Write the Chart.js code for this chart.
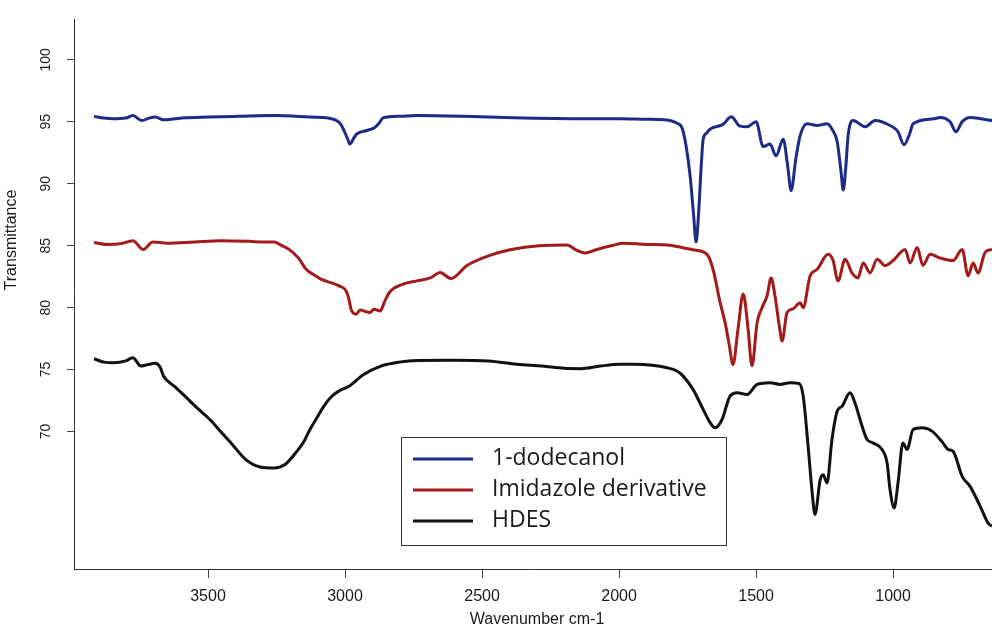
<!DOCTYPE html>
<html>
<head>
<meta charset="utf-8">
<script src="https://cdn.jsdelivr.net/npm/chart.js@4.4.1/dist/chart.umd.min.js"></script>
<style>
  html, body { margin: 0; padding: 0; background: #fff; }
  #wrap { width: 992px; height: 635px; }
</style>
</head>
<body>
<div id="wrap"><canvas id="ftirChart"></canvas></div>
<script>
// wavenumbers (cm-1) and transmittance
const dodecanolWn = [3916, 3880, 3845, 3800, 3774, 3741, 3715, 3693, 3662, 3620, 3584, 3500, 3388, 3259, 3128, 3060, 3036, 3015, 3004, 2990, 2982, 2970, 2958, 2920, 2894, 2875, 2861, 2800, 2737, 2567, 2385, 2124, 1996, 1900, 1825, 1790, 1770, 1755, 1740, 1728, 1719, 1710, 1700, 1693, 1680, 1668, 1620, 1591, 1558, 1533, 1500, 1474, 1449, 1427, 1401, 1385, 1372, 1355, 1339, 1314, 1277, 1241, 1220, 1204, 1190, 1182, 1172, 1164, 1146, 1102, 1066, 1011, 982, 960, 940, 927, 854, 828, 792, 770, 748, 719, 680, 639];
const dodecanolT = [95.44, 95.3, 95.24, 95.3, 95.51, 95.1, 95.3, 95.38, 95.16, 95.25, 95.32, 95.38, 95.44, 95.5, 95.38, 95.3, 95.16, 94.8, 94.3, 93.6, 93.2, 93.6, 94.0, 94.3, 94.5, 94.9, 95.32, 95.45, 95.5, 95.44, 95.32, 95.24, 95.24, 95.2, 95.15, 94.9, 94.5, 93.0, 90.5, 87.5, 85.3, 87.5, 91.5, 93.6, 94.1, 94.4, 94.8, 95.4, 94.65, 94.6, 95.0, 93.0, 93.2, 92.25, 93.6, 91.5, 89.44, 92.0, 93.9, 94.84, 94.7, 94.84, 94.3, 93.4, 91.0, 89.5, 91.5, 93.9, 95.1, 94.6, 95.1, 94.7, 94.2, 93.14, 94.0, 94.84, 95.24, 95.35, 95.0, 94.2, 95.0, 95.35, 95.25, 95.1];

const imidazoleWn = [3916, 3870, 3821, 3774, 3737, 3701, 3650, 3550, 3453, 3350, 3296, 3259, 3230, 3204, 3170, 3142, 3110, 3088, 3050, 3022, 2996, 2985, 2978, 2960, 2945, 2931, 2910, 2894, 2872, 2855, 2839, 2788, 2737, 2686, 2653, 2613, 2555, 2474, 2398, 2292, 2190, 2157, 2124, 2084, 2018, 1985, 1900, 1825, 1730, 1679, 1657, 1631, 1613, 1598, 1584, 1566, 1547, 1529, 1515, 1496, 1478, 1460, 1445, 1431, 1415, 1405, 1387, 1365, 1339, 1328, 1303, 1277, 1237, 1219, 1201, 1175, 1150, 1128, 1109, 1084, 1058, 1029, 1000, 956, 938, 912, 891, 865, 828, 781, 748, 726, 708, 690, 664, 639];
const imidazoleT = [85.26, 85.1, 85.15, 85.4, 84.7, 85.3, 85.2, 85.3, 85.4, 85.35, 85.3, 85.3, 85.0, 84.7, 84.0, 83.1, 82.6, 82.3, 82.0, 81.76, 81.35, 80.6, 79.87, 79.47, 79.8, 79.73, 79.6, 79.87, 79.73, 80.5, 81.2, 81.9, 82.16, 82.43, 82.84, 82.35, 83.4, 84.2, 84.67, 85.0, 85.05, 84.67, 84.4, 84.67, 85.05, 85.2, 85.1, 85.05, 84.67, 84.3, 83.1, 80.4, 78.8, 77.0, 75.4, 78.25, 81.1, 78.25, 75.3, 78.8, 80.0, 80.95, 82.4, 80.95, 78.5, 77.3, 79.6, 79.9, 80.4, 80.0, 82.56, 83.1, 84.3, 83.8, 82.16, 83.9, 82.8, 82.4, 83.6, 82.8, 83.9, 83.4, 83.8, 84.7, 83.6, 84.86, 83.4, 84.3, 84.0, 83.8, 84.7, 82.56, 83.6, 82.8, 84.46, 84.7];

const hdesWn = [3916, 3880, 3845, 3800, 3774, 3745, 3720, 3693, 3675, 3662, 3620, 3584, 3540, 3493, 3450, 3416, 3362, 3310, 3259, 3219, 3180, 3150, 3128, 3100, 3077, 3050, 3023, 2985, 2960, 2932, 2869, 2803, 2737, 2600, 2476, 2372, 2281, 2200, 2139, 2069, 1996, 1949, 1880, 1825, 1790, 1766, 1730, 1693, 1670, 1650, 1624, 1595, 1569, 1533, 1496, 1449, 1412, 1376, 1343, 1328, 1310, 1295, 1285, 1266, 1255, 1241, 1223, 1204, 1186, 1157, 1139, 1113, 1095, 1073, 1040, 1022, 1011, 996, 982, 964, 949, 927, 894, 858, 818, 799, 781, 748, 719, 682, 653, 639];
const hdesT = [75.87, 75.6, 75.55, 75.7, 75.96, 75.28, 75.4, 75.5, 75.2, 74.47, 73.6, 72.86, 71.9, 70.97, 69.9, 69.08, 67.73, 67.14, 67.06, 67.33, 68.28, 69.2, 70.16, 71.2, 72.05, 72.8, 73.26, 73.66, 74.1, 74.6, 75.28, 75.6, 75.74, 75.75, 75.69, 75.42, 75.28, 75.1, 75.07, 75.28, 75.42, 75.42, 75.35, 75.15, 74.9, 74.47, 73.4, 71.78, 70.8, 70.3, 70.97, 72.86, 73.13, 72.99, 73.8, 73.94, 73.8, 73.94, 73.88, 72.86, 68.8, 65.0, 63.3, 66.1, 66.5, 65.85, 69.35, 71.64, 72.05, 73.13, 72.3, 70.43, 69.35, 69.08, 68.54, 67.47, 65.3, 63.82, 65.85, 69.08, 68.54, 70.16, 70.3, 70.03, 69.08, 68.54, 68.4, 66.38, 65.57, 63.96, 62.6, 62.35];

const seriesNames = ["1-dodecanol", "Imidazole derivative", "HDES"];
const seriesColors = ["#1c2b86", "#a31a1a", "#111111"];
const xTicks = [3500, 3000, 2500, 2000, 1500, 1000];
const yTicks = [70, 75, 80, 85, 90, 95, 100];

function toPoints(wn, t) {
  return wn.map((x, i) => ({ x: x, y: t[i] }));
}

const labelFont = "Liberation Sans, Arial, sans-serif";

// axis labels, rotated y ticks and the boxed legend
const extrasPlugin = {
  id: "extras",
  afterDraw(chart) {
    const ctx = chart.ctx;
    const yScale = chart.scales.y;
    const area = chart.chartArea;

    ctx.save();
    ctx.fillStyle = "#1a1a1a";
    ctx.font = "14px " + labelFont;
    ctx.textAlign = "center";
    ctx.textBaseline = "middle";
    yTicks.forEach(v => {
      ctx.save();
      ctx.translate(46, yScale.getPixelForValue(v));
      ctx.rotate(-Math.PI / 2);
      ctx.fillText(String(v), 0, 0);
      ctx.restore();
    });

    ctx.font = "16px " + labelFont;
    ctx.save();
    ctx.translate(12, 240);
    ctx.rotate(-Math.PI / 2);
    ctx.fillText("Transmittance", 0, 0);
    ctx.restore();

    ctx.fillText("Wavenumber cm-1", (area.left + area.right) / 2 + 4, 620);

    // legend
    const bx = 401, by = 437, bw = 325, bh = 108;
    ctx.fillStyle = "#fff";
    ctx.fillRect(bx, by, bw, bh);
    ctx.strokeStyle = "#333";
    ctx.lineWidth = 1;
    ctx.strokeRect(bx + 0.5, by + 0.5, bw, bh);
    ctx.font = "23px 'Open Sans', 'Noto Sans', sans-serif";
    ctx.textAlign = "left";
    const rows = [459, 490, 521];
    seriesNames.forEach((name, i) => {
      ctx.strokeStyle = seriesColors[i];
      ctx.lineWidth = 3;
      ctx.beginPath();
      ctx.moveTo(413, rows[i]);
      ctx.lineTo(473, rows[i]);
      ctx.stroke();
      ctx.fillStyle = "#1a1a1a";
      ctx.fillText(name, 492, rows[i] - 1);
    });
    ctx.restore();
  }
};

new Chart(document.getElementById("ftirChart"), {
  type: "line",
  data: {
    datasets: [
      { label: seriesNames[0], data: toPoints(dodecanolWn, dodecanolT), borderColor: seriesColors[0] },
      { label: seriesNames[1], data: toPoints(imidazoleWn, imidazoleT), borderColor: seriesColors[1] },
      { label: seriesNames[2], data: toPoints(hdesWn, hdesT), borderColor: seriesColors[2] }
    ]
  },
  options: {
    responsive: true,
    maintainAspectRatio: false,
    animation: false,
    layout: { padding: { top: 19, right: 0, bottom: 0, left: 0 } },
    elements: {
      point: { radius: 0 },
      line: { borderWidth: 3, fill: false, cubicInterpolationMode: "monotone" }
    },
    plugins: {
      legend: { display: false },
      tooltip: { enabled: false }
    },
    scales: {
      x: {
        type: "linear",
        reverse: true,
        min: 639,
        max: 3989,
        afterBuildTicks: s => { s.ticks = xTicks.map(v => ({ value: v })); },
        afterFit: s => { s.height = 66; },
        grid: { drawOnChartArea: false, tickLength: 9, color: "#444" },
        border: { color: "#333", width: 1 },
        ticks: {
          color: "#1a1a1a",
          font: { family: labelFont, size: 16 },
          padding: 9,
          maxRotation: 0,
          autoSkip: false,
          callback: v => String(v)
        }
      },
      y: {
        type: "linear",
        min: 58.9,
        max: 103.3,
        afterBuildTicks: s => { s.ticks = yTicks.map(v => ({ value: v })); },
        afterFit: s => { s.width = 74; },
        grid: { drawOnChartArea: false, tickLength: 7, color: "#444" },
        border: { color: "#333", width: 1 },
        ticks: { display: false }
      }
    }
  },
  plugins: [extrasPlugin]
});
</script>
</body>
</html>
